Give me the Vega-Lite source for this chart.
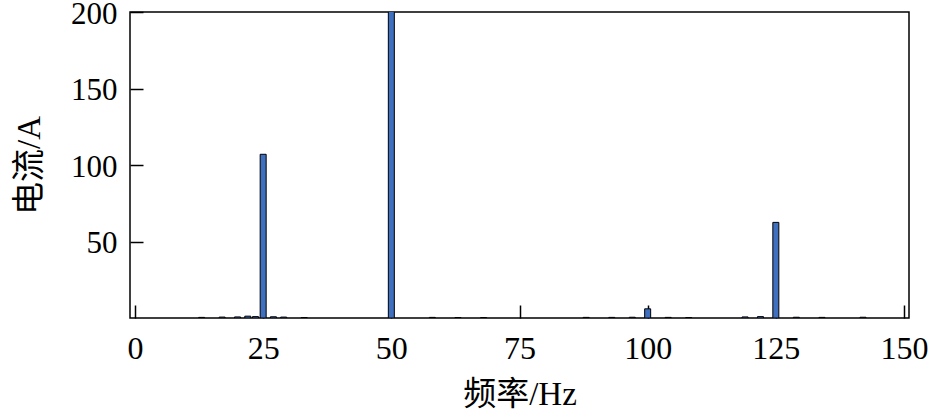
{
  "$schema": "https://vega.github.io/schema/vega-lite/v6.json",
  "width": 779,
  "height": 306,
  "autosize": "none",
  "padding": {"left": 130, "top": 12, "right": 25, "bottom": 93},
  "background": "white",
  "config": {
    "view": {"stroke": "black", "strokeWidth": 1.5},
    "font": "Liberation Serif, Noto Sans CJK SC"
  },
  "data": {
    "values": [
      {"freq": 13, "current": 0.4},
      {"freq": 17, "current": 0.6},
      {"freq": 20, "current": 0.7},
      {"freq": 22, "current": 1.2},
      {"freq": 23.5, "current": 0.9},
      {"freq": 25, "current": 107},
      {"freq": 27, "current": 0.8},
      {"freq": 29, "current": 0.6},
      {"freq": 33, "current": 0.3},
      {"freq": 50, "current": 210},
      {"freq": 58, "current": 0.4},
      {"freq": 63, "current": 0.3},
      {"freq": 68, "current": 0.3},
      {"freq": 88, "current": 0.4},
      {"freq": 93, "current": 0.4},
      {"freq": 97, "current": 0.5},
      {"freq": 100, "current": 6},
      {"freq": 104, "current": 0.4},
      {"freq": 108, "current": 0.3},
      {"freq": 119, "current": 0.7},
      {"freq": 122, "current": 0.9},
      {"freq": 125, "current": 62.5},
      {"freq": 129, "current": 0.5},
      {"freq": 134, "current": 0.4},
      {"freq": 142, "current": 0.5}
    ]
  },
  "mark": {"type": "bar", "size": 6, "fill": "#3F6FBF", "stroke": "black", "strokeWidth": 1, "clip": true, "orient": "vertical"},
  "encoding": {
    "x": {
      "field": "freq",
      "type": "quantitative",
      "scale": {"domain": [0, 150], "nice": false, "zero": false},
      "axis": {
        "values": [0, 25, 50, 75, 100, 125, 150],
        "offset": -13,
        "title": "频率/Hz",
        "titleFont": "Liberation Serif, Noto Sans CJK SC",
        "titleFontSize": 33,
        "titleFontWeight": "normal",
        "titleColor": "black",
        "titlePadding": 14,
        "labelFont": "Liberation Serif",
        "labelFontSize": 32,
        "labelColor": "black",
        "labelPadding": 15,
        "labelOverlap": false,
        "labelFlush": false,
        "tickSize": 13,
        "tickColor": "black",
        "tickWidth": 1.5,
        "domain": false,
        "grid": false
      }
    },
    "y": {
      "field": "current",
      "type": "quantitative",
      "scale": {"domain": [0, 200], "nice": false},
      "axis": {
        "values": [50, 100, 150, 200],
        "offset": -13,
        "title": "电流/A",
        "titleFont": "Liberation Serif, Noto Sans CJK SC",
        "titleFontSize": 33,
        "titleFontWeight": "normal",
        "titleColor": "black",
        "titlePadding": 24,
        "labelFont": "Liberation Serif",
        "labelFontSize": 31,
        "labelColor": "black",
        "labelPadding": 13,
        "labelOffset": 2,
        "labelOverlap": false,
        "labelFlush": false,
        "tickSize": 13,
        "tickColor": "black",
        "tickWidth": 1.5,
        "domain": false,
        "grid": false
      }
    }
  }
}
